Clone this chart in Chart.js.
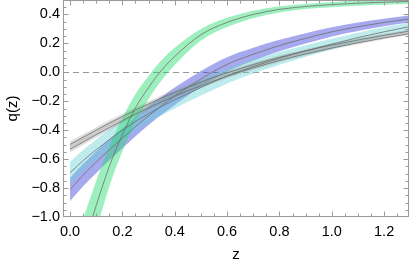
<!DOCTYPE html>
<html>
<head>
<meta charset="utf-8">
<script src="https://cdn.jsdelivr.net/npm/chart.js@4/dist/chart.umd.min.js"></script>
<style>
  html,body{margin:0;padding:0;background:#fff;}
  #wrap{width:415px;height:264px;}
</style>
</head>
<body>
<div id="wrap"><canvas id="c" width="415" height="264"></canvas></div>
<script>
// ---- data ----
const zVals      = [0, 0.05, 0.1, 0.15, 0.2, 0.25, 0.3, 0.35, 0.4, 0.5, 0.6, 0.7, 0.8, 0.9, 1.0, 1.1, 1.2, 1.3];

const greenMid   = [-1.5, -1.21, -0.92, -0.65, -0.43, -0.245, -0.105, 0.015, 0.11, 0.26, 0.345, 0.40, 0.435, 0.455, 0.468, 0.478, 0.485, 0.49];
const greenLo    = [-1.75, -1.41, -1.09, -0.79, -0.545, -0.34, -0.185, -0.055, 0.05, 0.22, 0.313, 0.374, 0.413, 0.437, 0.45, 0.46, 0.467, 0.472];
const greenHi    = [-1.25, -1.01, -0.75, -0.51, -0.315, -0.15, -0.025, 0.085, 0.17, 0.30, 0.377, 0.426, 0.457, 0.473, 0.486, 0.496, 0.503, 0.508];

const blueMid    = [-0.81, -0.71, -0.62, -0.535, -0.455, -0.375, -0.30, -0.23, -0.165, -0.045, 0.055, 0.125, 0.185, 0.235, 0.28, 0.315, 0.345, 0.37];
const blueLo     = [-0.89, -0.788, -0.695, -0.607, -0.525, -0.442, -0.364, -0.292, -0.225, -0.10, 0.005, 0.08, 0.145, 0.199, 0.248, 0.286, 0.319, 0.346];
const blueHi     = [-0.73, -0.632, -0.545, -0.463, -0.385, -0.308, -0.236, -0.168, -0.105, 0.01, 0.105, 0.17, 0.225, 0.271, 0.312, 0.344, 0.371, 0.394];

const cyanMid    = [-0.694, -0.61, -0.535, -0.465, -0.40, -0.34, -0.285, -0.235, -0.19, -0.105, -0.025, 0.04, 0.097, 0.148, 0.195, 0.24, 0.28, 0.317];
const cyanLo     = [-0.769, -0.683, -0.606, -0.534, -0.467, -0.405, -0.348, -0.296, -0.25, -0.161, -0.077, -0.008, 0.053, 0.108, 0.158, 0.206, 0.249, 0.287];
const cyanHi     = [-0.619, -0.537, -0.464, -0.396, -0.333, -0.275, -0.222, -0.174, -0.13, -0.049, 0.027, 0.088, 0.141, 0.188, 0.232, 0.274, 0.311, 0.347];

const grayA      = [-0.498, -0.448, -0.399, -0.351, -0.305, -0.26, -0.218, -0.176, -0.139, -0.067, -0.003, 0.054, 0.104, 0.149, 0.188, 0.224, 0.256, 0.286];
const grayB      = [-0.532, -0.482, -0.431, -0.383, -0.335, -0.29, -0.246, -0.204, -0.165, -0.093, -0.027, 0.03, 0.082, 0.127, 0.168, 0.204, 0.238, 0.268];
const grayHi     = [-0.477, -0.428, -0.379, -0.332, -0.286, -0.242, -0.2, -0.159, -0.122, -0.052, 0.011, 0.067, 0.116, 0.16, 0.199, 0.234, 0.266, 0.295];
const grayLo     = [-0.553, -0.502, -0.451, -0.402, -0.354, -0.308, -0.264, -0.221, -0.182, -0.108, -0.041, 0.017, 0.07, 0.116, 0.157, 0.194, 0.228, 0.259];

const xTickVals   = [0, 0.2, 0.4, 0.6, 0.8, 1.0, 1.2];
const xTickLabels = ['0.0', '0.2', '0.4', '0.6', '0.8', '1.0', '1.2'];
const yTickVals   = [-1.0, -0.8, -0.6, -0.4, -0.2, 0.0, 0.2, 0.4];
const yTickLabels = ['\u22121.0', '\u22120.8', '\u22120.6', '\u22120.4', '\u22120.2', '0.0', '0.2', '0.4'];
const xLabel = 'z';
const yLabel = 'q(z)';

// ---- helpers ----
const pts = arr => zVals.map((z, i) => ({x: z, y: arr[i]}));
const lineCol = 'rgba(110,110,110,0.8)';
function bandSets(lo, hi, fillCol, order) {
  return [
    {data: pts(lo), borderWidth: 0, pointRadius: 0, fill: false, order: order, cubicInterpolationMode: 'monotone'},
    {data: pts(hi), borderWidth: 0, pointRadius: 0, fill: '-1', backgroundColor: fillCol, order: order, cubicInterpolationMode: 'monotone'}
  ];
}
function midSet(arr) {
  return {data: pts(arr), borderColor: lineCol, borderWidth: 1, pointRadius: 0, fill: false, order: 0, cubicInterpolationMode: 'monotone'};
}

const datasets = [
  ...bandSets(blueLo, blueHi, 'rgba(60,65,220,0.45)', 4),
  ...bandSets(cyanLo, cyanHi, 'rgba(100,210,210,0.42)', 3),
  ...bandSets(grayLo, grayHi, 'rgba(140,140,140,0.28)', 2),
  ...bandSets(grayB, grayA, 'rgba(140,140,140,0.25)', 2),
  ...bandSets(greenLo, greenHi, 'rgba(40,220,110,0.45)', 1),
  midSet(blueMid), midSet(cyanMid), midSet(grayA), midSet(grayB), midSet(greenMid)
];

const frameCol = '#9a9a9a';
const framePlugin = {
  id: 'frame',
  beforeDatasetsDraw(chart) {
    const ctx = chart.ctx, a = chart.chartArea, ys = chart.scales.y;
    const y0 = Math.round(ys.getPixelForValue(0)) + 0.5;
    ctx.save();
    ctx.strokeStyle = 'rgba(150,150,150,1)';
    ctx.lineWidth = 1;
    ctx.setLineDash([6, 4]);
    ctx.beginPath(); ctx.moveTo(a.left, y0); ctx.lineTo(a.right, y0); ctx.stroke();
    ctx.restore();
  },
  afterDraw(chart) {
    const ctx = chart.ctx, a = chart.chartArea, xs = chart.scales.x, ys = chart.scales.y;
    ctx.save();
    ctx.strokeStyle = frameCol;
    ctx.lineWidth = 1;
    const L = Math.round(a.left) + 0.5, R = Math.round(a.right) - 0.5, T = Math.round(a.top) + 0.5, B = Math.round(a.bottom) - 0.5;
    ctx.strokeRect(L, T, R - L, B - T);
    ctx.beginPath();
    for (let k = 0; k <= 26; k++) {
      const v = k * 0.05;
      const major = k % 4 === 0;
      const len = major ? 5 : 3;
      const px = Math.round(xs.getPixelForValue(v)) + 0.5;
      if (px < L || px > R) continue;
      ctx.moveTo(px, B); ctx.lineTo(px, B - len);
      ctx.moveTo(px, T); ctx.lineTo(px, T + len);
    }
    for (let k = 0; k <= 30; k++) {
      const v = -1 + k * 0.05;
      const major = k % 4 === 0;
      const len = major ? 5 : 3;
      const py = Math.round(ys.getPixelForValue(v)) + 0.5;
      if (py < T - 0.1 || py > B + 0.1) continue;
      ctx.moveTo(L, py); ctx.lineTo(L + len, py);
      ctx.moveTo(R, py); ctx.lineTo(R - len, py);
    }
    ctx.stroke();
    ctx.restore();
  }
};

new Chart(document.getElementById('c'), {
  type: 'line',
  data: {datasets},
  options: {
    responsive: false,
    animation: false,
    devicePixelRatio: 1,
    layout: {padding: {top: 0, right: 6, left: 0, bottom: 0}},
    plugins: {legend: {display: false}, tooltip: {enabled: false}},
    elements: {line: {tension: 0}},
    scales: {
      x: {
        type: 'linear', min: -0.027, max: 1.295,
        afterBuildTicks: s => { s.ticks = xTickVals.map(v => ({value: v})); },
        afterFit: s => { s.height = 47; s.paddingLeft = 0; s.paddingRight = 0; },
        grid: {display: false, drawTicks: false},
        border: {display: false},
        ticks: {
          padding: 6, color: '#000', maxRotation: 0, autoSkip: false,
          font: {family: 'Liberation Sans', size: 14.5},
          callback: (v) => { const i = xTickVals.findIndex(t => Math.abs(t - v) < 1e-9); return i >= 0 ? xTickLabels[i] : ''; }
        },
        title: {display: true, text: xLabel, color: '#000', font: {family: 'Liberation Sans', size: 15}, padding: {top: 0, bottom: 0}}
      },
      y: {
        type: 'linear', min: -1.0, max: 0.5,
        afterBuildTicks: s => { s.ticks = yTickVals.map(v => ({value: v})); },
        afterFit: s => { s.width = 63; s.paddingTop = 0; s.paddingBottom = 0; },
        grid: {display: false, drawTicks: false},
        border: {display: false},
        ticks: {
          padding: 3, color: '#000', autoSkip: false,
          font: {family: 'Liberation Sans', size: 14.5},
          callback: (v) => { const i = yTickVals.findIndex(t => Math.abs(t - v) < 1e-9); return i >= 0 ? yTickLabels[i] : ''; }
        },
        title: {display: true, text: yLabel, color: '#000', font: {family: 'Liberation Sans', size: 15}, padding: {top: 4, bottom: 0}}
      }
    }
  },
  plugins: [framePlugin]
});
</script>
</body>
</html>
